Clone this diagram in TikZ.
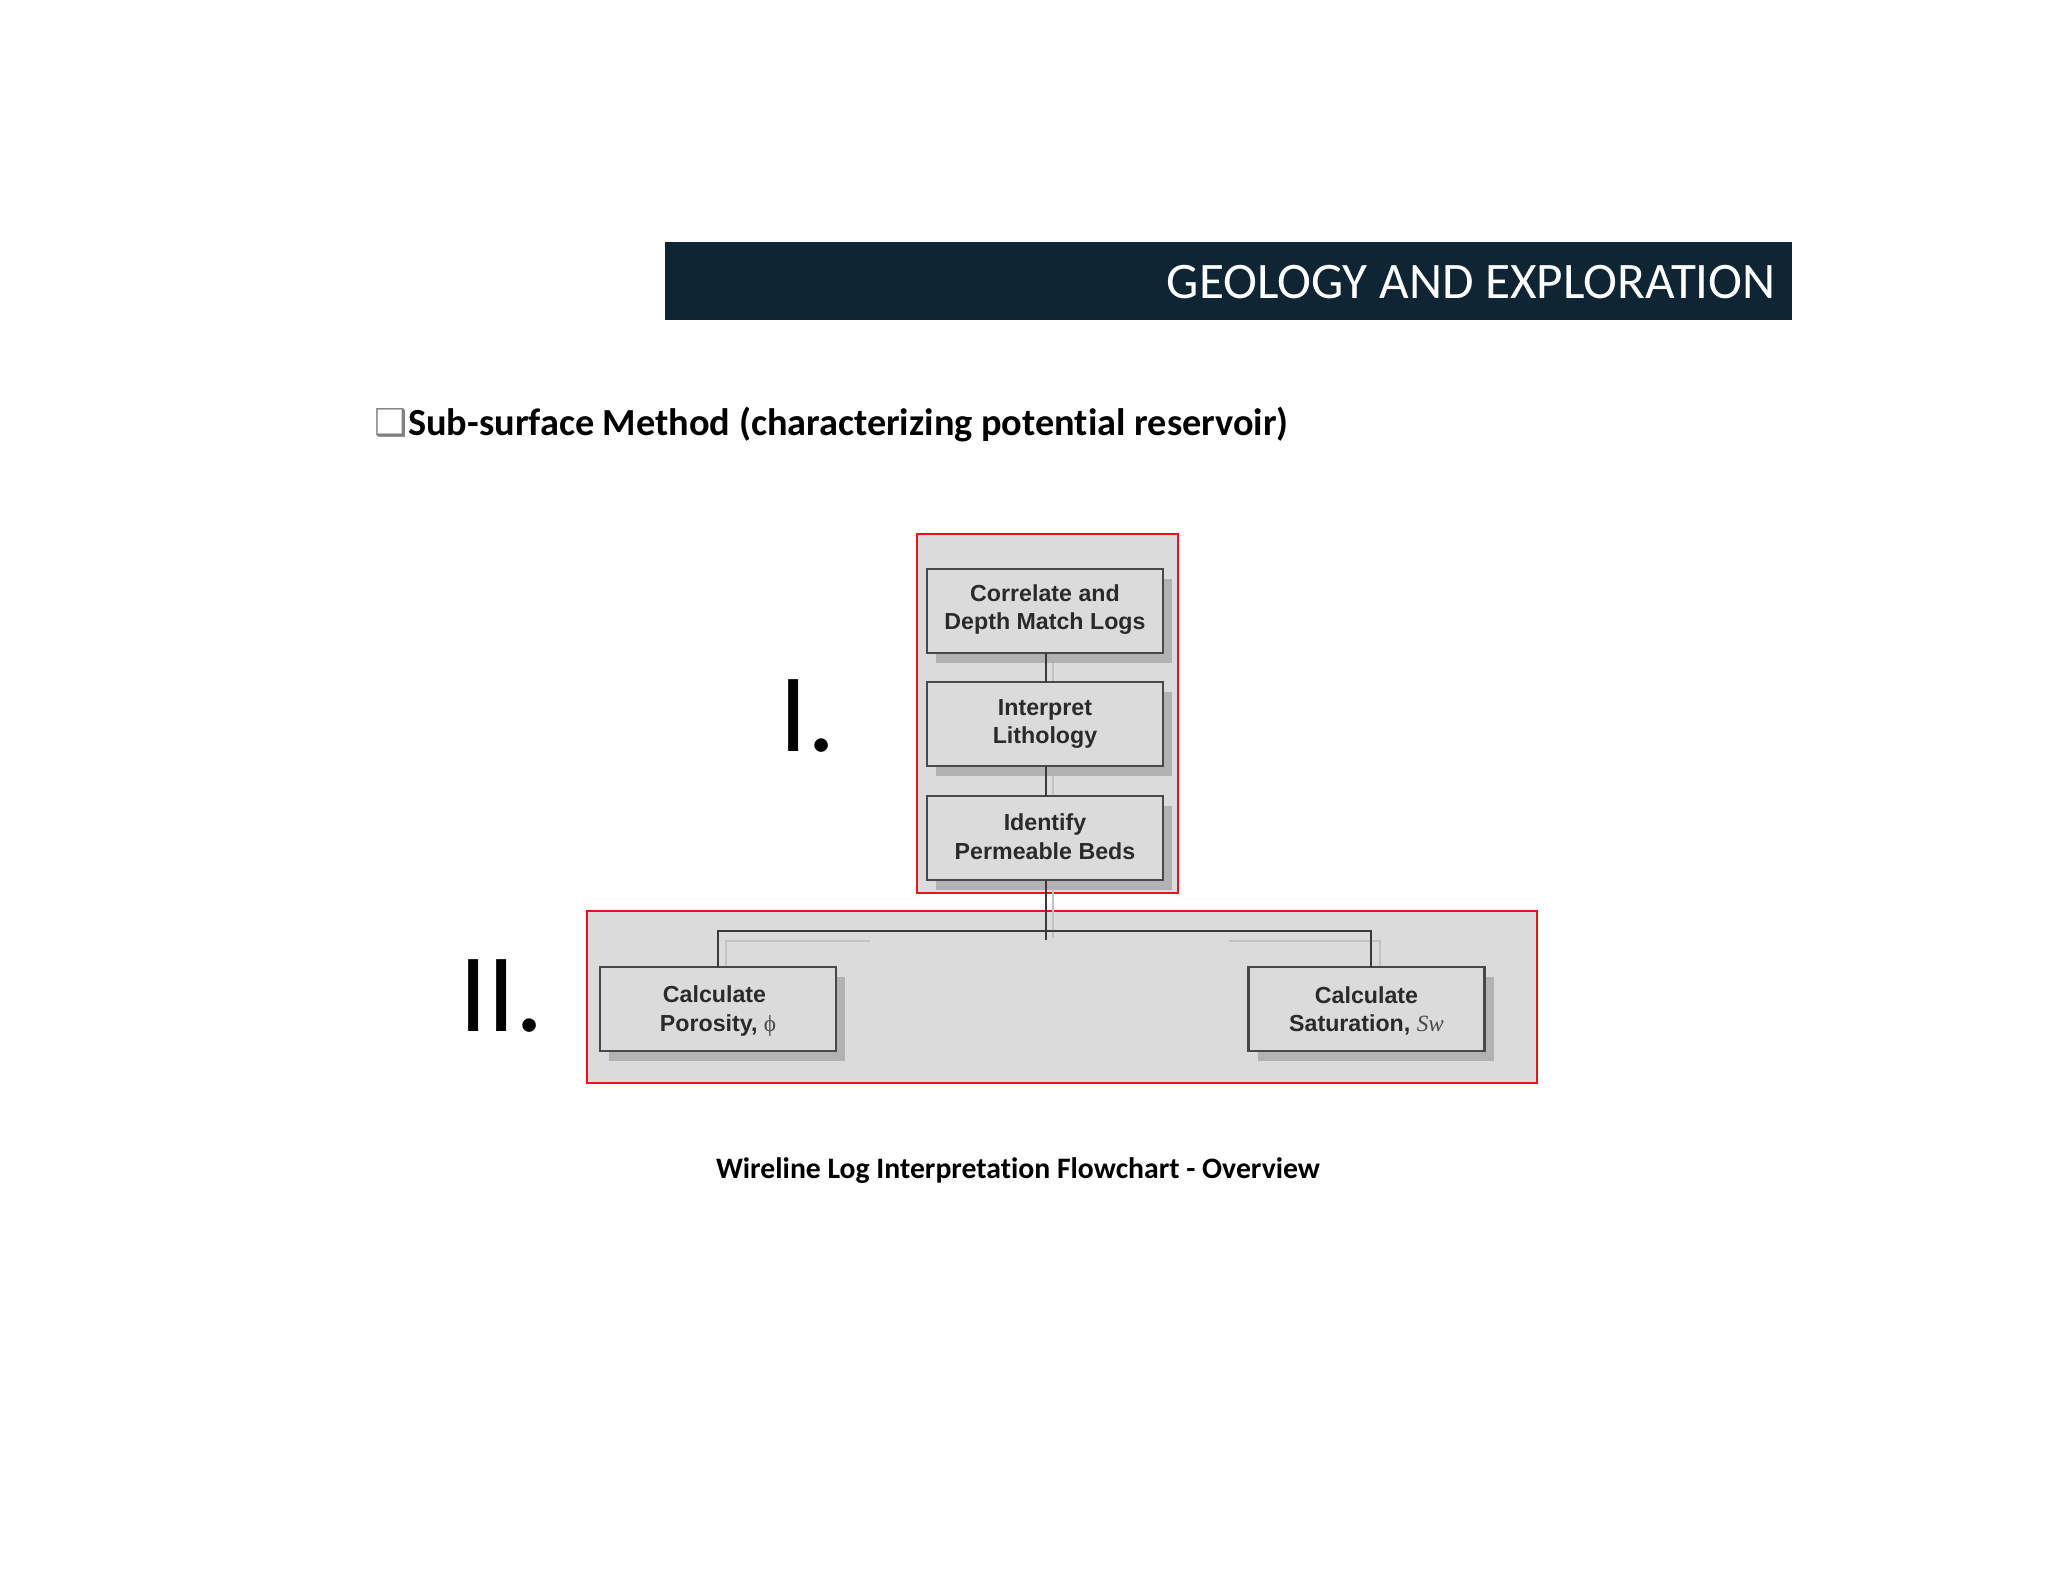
\documentclass[tikz,border=0pt]{standalone}
\usepackage{fontspec}
\setmainfont[Ligatures=CommonOff]{Carlito}
\newfontfamily\boxfont{Liberation Sans}
\newfontfamily\symfont{Liberation Serif}
\newfontfamily\bulletfont{DejaVu Sans}
\usetikzlibrary{shadows}
\definecolor{headerblue}{HTML}{0F2533}
\definecolor{panelgray}{HTML}{DBDBDB}
\definecolor{boxedge}{HTML}{484848}
\definecolor{boxtext}{HTML}{2A2A2A}
\definecolor{shadowgray}{HTML}{B2B2B2}
\definecolor{ghostgray}{HTML}{C2C2C2}
\definecolor{redline}{HTML}{E8141C}
\tikzset{
  panel/.style={draw=redline,fill=panelgray,line width=2.4pt,inner sep=0pt,outer sep=0pt},
  stepbox/.style={draw=boxedge,fill=panelgray,line width=2.4pt,inner sep=0pt,outer sep=0pt,
    minimum width=236pt,minimum height=84pt,align=center,text=boxtext,
    font=\boxfont\bfseries\fontsize{23.2}{28.5}\selectfont,
    general shadow={shadow xshift=9pt,shadow yshift=-9.5pt,fill=shadowgray,draw=none}},
  link/.style={draw=boxedge!80!black,line width=2.8pt},
  ghost/.style={draw=ghostgray,line width=2.4pt},
  bigmark/.style={inner sep=0pt,font=\fontsize{112}{112}\selectfont,text=black,anchor=base west},
}
\begin{document}
\begin{tikzpicture}[x=1pt,y=-1pt]
\useasboundingbox (0,0) rectangle (2048,1582);
\fill[white] (0,0) rectangle (2048,1582);
% header
\node[fill=headerblue,inner sep=0pt,minimum width=1127pt,minimum height=78pt] (header) at (1228.5,281) {};
\node[anchor=base east,inner sep=0pt,text=white,font=\fontsize{51.2}{51.2}\selectfont] (headertext) at (1776,298) {GEOLOGY AND EXPLORATION};
% heading
\node[anchor=base west,inner sep=0pt,text=gray,font=\bulletfont\bfseries\fontsize{37}{37}\selectfont] (bullet) at (374,435) {❑};
\node[anchor=base west,inner sep=0pt,font=\bfseries\fontsize{38.3}{38.3}\selectfont] (heading) at (408,435.5) {Sub-surface Method (characterizing potential reservoir)};
% panels
\node[panel,minimum width=261pt,minimum height=359pt] (panelA) at (1047.5,713.5) {};
\node[panel,minimum width=950pt,minimum height=172pt] (panelB) at (1062,997) {};
% junction and bus points
\coordinate (jx) at (1046,0);
\coordinate (gx) at (1053,0);
\coordinate (jend) at (1046,940);
\coordinate (gend) at (1053,938);
\coordinate (busL) at (718,931);
\coordinate (busR) at (1371,931);
\coordinate (gL) at (726,941);
\coordinate (gLend) at (870,941);
\coordinate (gR) at (1380,941);
\coordinate (gRend) at (1229,941);
% ghost lines
\draw[ghost] (gx |- 0,653) -- (gx |- 0,682);
\draw[ghost] (gx |- 0,766) -- (gx |- 0,796);
\draw[ghost] (gx |- 0,880) -- (gend);
\draw[ghost] (gL |- 0,967) -- (gL) -- (gLend);
\draw[ghost] (gR |- 0,967) -- (gR) -- (gRend);
% boxes
\node[stepbox] (b1) at (1045,611) {\raisebox{1.5pt}[\height][\depth]{Correlate and}\\\raisebox{1.5pt}[\height][\depth]{Depth Match Logs}};
\node[stepbox] (b2) at (1045,724) {Interpret\\Lithology};
\node[stepbox] (b3) at (1045,838) {\raisebox{1.5pt}[\height][\depth]{Identify}\\\raisebox{1.5pt}[\height][\depth]{Permeable Beds}};
\node[stepbox] (b4) at (718,1009) {\raisebox{-2pt}[\height][\depth]{\hspace*{-7pt}Calculate}\\\raisebox{-2pt}[\height][\depth]{Porosity, {\symfont\mdseries\color{boxedge}ϕ}}};
\node[stepbox] (b5) at (1366.5,1009) {\raisebox{-2pt}[\height][\depth]{Calculate}\\\raisebox{-2pt}[\height][\depth]{Saturation, {\symfont\mdseries\itshape\color{boxedge}Sw}}};
% connectors
\draw[link] (jx |- b1.south) -- (jx |- b2.north);
\draw[link] (jx |- b2.south) -- (jx |- b3.north);
\draw[link] (jx |- b3.south) -- (jend);
\draw[link] (busL |- b4.north) -- (busL) -- (busR) -- (busR |- b5.north);
% labels
\node[bigmark] (labelI) at (779,751) {I.};
\node[bigmark] (labelII) at (459,1031) {II.};
\node[anchor=base,inner sep=0pt,font=\bfseries\fontsize{29.7}{29.7}\selectfont] (caption) at (1018,1178) {Wireline Log Interpretation Flowchart - Overview};
\end{tikzpicture}
\end{document}
